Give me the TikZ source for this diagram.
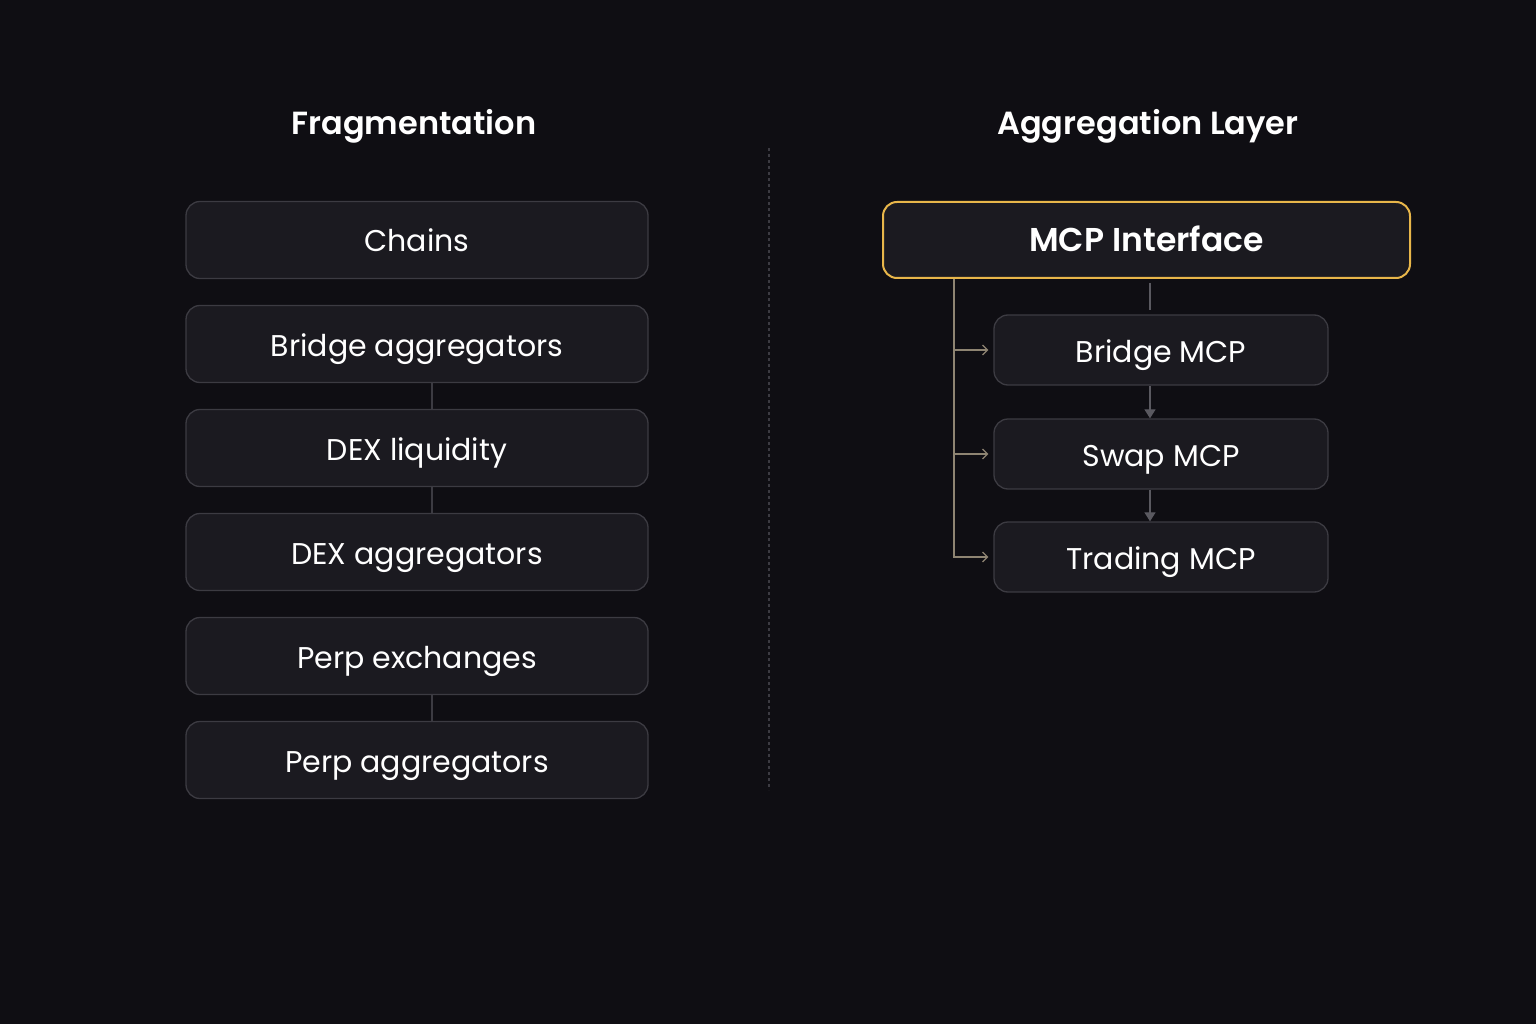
\documentclass[tikz,border=0pt]{standalone}
\usepackage{fontspec}
\setmainfont{Poppins}[BoldFont={Poppins SemiBold}]
\usepackage{xcolor}
\usetikzlibrary{arrows.meta}

\definecolor{bgcol}{HTML}{0F0E13}
\definecolor{boxfill}{HTML}{1B1A20}
\definecolor{boxline}{HTML}{3C3B42}
\definecolor{gold}{HTML}{E8B64A}
\definecolor{wire}{HTML}{5A5960}
\definecolor{trunk}{HTML}{8E8472}

\begin{document}
\begin{tikzpicture}[x=1pt, y=-1pt, >=Stealth,
  item/.style={draw=boxline, fill=boxfill, rounded corners=14pt, line width=1.3pt,
    minimum width=462pt, minimum height=77pt, text=white, text height=24pt, text depth=0pt,
    font=\fontsize{30}{34}\selectfont},
  sub/.style={item, minimum width=334pt, minimum height=70pt},
  head/.style={text=white, font=\fontsize{32}{36}\selectfont\bfseries},
  link/.style={draw=wire, line width=1.2pt},
  branch/.style={draw=trunk, line width=1.2pt, -{Straight Barb[length=5pt,width=10pt]}, shorten >=5pt}]
  % background and page size
  \fill[bgcol] (0,0) rectangle (1536,1024);
  \useasboundingbox (0,0) rectangle (1536,1024);

  % divider
  \draw[boxline, dashed, line width=1.2pt] (769,148) -- (769,790);

  % left column: fragmentation
  \node[head] (fragtitle) at (414,126) {Fragmentation};
  \node[item] (chains) at (417,240) {Chains};
  \node[item] (bagg) at (417,344) {Bridge aggregators};
  \node[item] (dliq) at (417,448) {DEX liquidity};
  \node[item] (dagg) at (417,552) {DEX aggregators};
  \node[item] (pexc) at (417,656) {Perp exchanges};
  \node[item] (pagg) at (417,760) {Perp aggregators};
  \draw[link, draw=boxline] ([xshift=15pt]bagg.south) -- ([xshift=15pt]dliq.north);
  \draw[link, draw=boxline] ([xshift=15pt]dliq.south) -- ([xshift=15pt]dagg.north);
  \draw[link, draw=boxline] ([xshift=15pt]pexc.south) -- ([xshift=15pt]pagg.north);

  % right column: aggregation layer
  \node[head] (aggtitle) at (1148,126) {Aggregation Layer};
  \node[item, draw=gold, line width=2pt, minimum width=527pt, minimum height=76pt,
    text height=23pt, font=\fontsize{33}{36}\selectfont\bfseries] (mcp) at (1146.5,240) {MCP Interface};
  \node[sub] (bmcp) at (1161,350) {Bridge MCP};
  \node[sub] (smcp) at (1161,454) {Swap MCP};
  \node[sub] (tmcp) at (1161,557) {Trading MCP};

  % chain of sub-servers
  \draw[link, shorten <=4pt, shorten >=4pt] ([xshift=-11pt]bmcp.north |- mcp.south) -- ([xshift=-11pt]bmcp.north);
  \draw[link, -{Triangle[length=9pt,width=11pt]}] ([xshift=-11pt]bmcp.south) -- ([xshift=-11pt]smcp.north);
  \draw[link, -{Triangle[length=9pt,width=11pt]}] ([xshift=-11pt]smcp.south) -- ([xshift=-11pt]tmcp.north);

  % trunk from the interface
  \coordinate (root) at ([xshift=72pt]mcp.south west);
  \draw[branch] (root) |- (tmcp.west);
  \draw[branch] (root |- bmcp.west) -- (bmcp.west);
  \draw[branch] (root |- smcp.west) -- (smcp.west);
\end{tikzpicture}
\end{document}
